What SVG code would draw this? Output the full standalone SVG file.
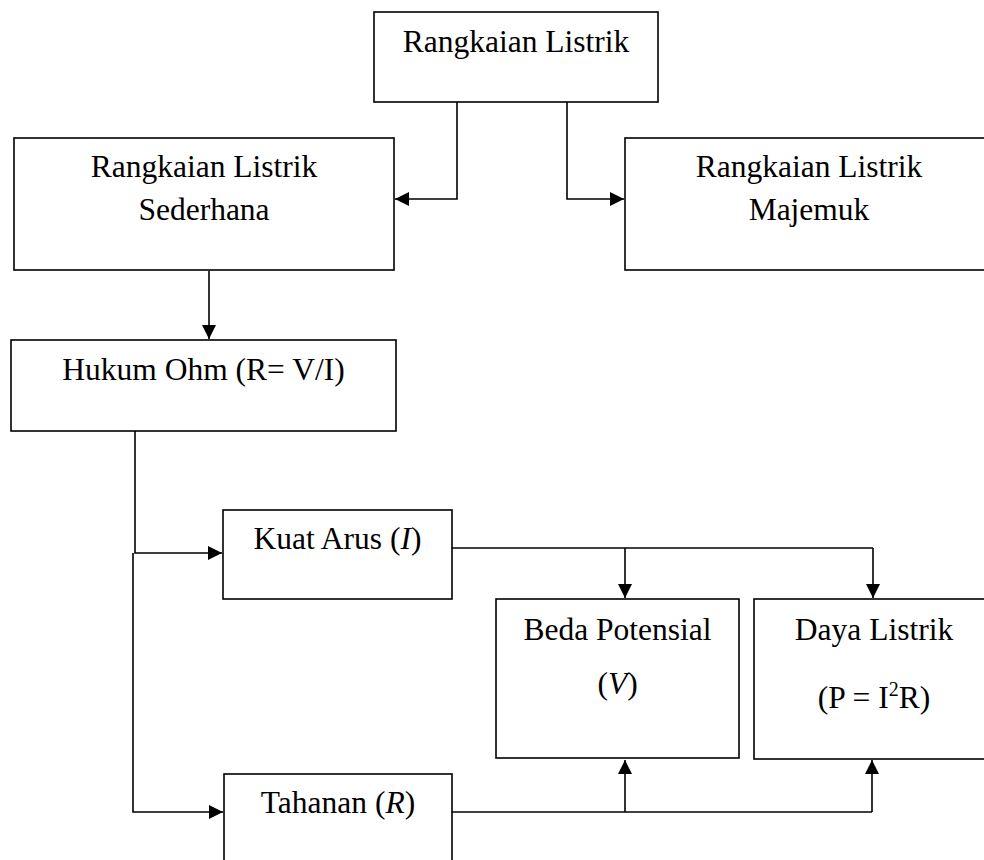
<svg xmlns="http://www.w3.org/2000/svg" width="984" height="860" viewBox="0 0 984 860">
<style>
.box{fill:#fff;stroke:#000;stroke-width:1.6}
.t{font-family:"Liberation Serif","Times New Roman",serif;font-size:31.5px;fill:#000;text-anchor:middle}
.c{fill:none;stroke:#000;stroke-width:1.6}
</style>
<defs>
<marker id="ah" markerUnits="userSpaceOnUse" markerWidth="15" markerHeight="15" refX="14" refY="7" orient="auto">
<path d="M0,0 L14,7 L0,14 z" fill="#000"/>
</marker>
</defs>
<rect width="984" height="860" fill="#fff"/>
<g id="connectors">
<path class="c" d="M457,102 V199 H395" marker-end="url(#ah)"/>
<path class="c" d="M567,102 V199 H624" marker-end="url(#ah)"/>
<path class="c" d="M209,271 V339" marker-end="url(#ah)"/>
<path class="c" d="M135,431 V553 H222" marker-end="url(#ah)"/>
<path class="c" d="M133,553 V812 H223" marker-end="url(#ah)"/>
<path class="c" d="M452,548 H873"/>
<path class="c" d="M625,548 V598" marker-end="url(#ah)"/>
<path class="c" d="M873,548 V598" marker-end="url(#ah)"/>
<path class="c" d="M452,812 H872"/>
<path class="c" d="M625,812 V760" marker-end="url(#ah)"/>
<path class="c" d="M872,812 V760" marker-end="url(#ah)"/>
</g>
<g id="rangkaian-listrik">
<rect class="box" x="374" y="12" width="284" height="90"/>
<text class="t" x="516" y="52">Rangkaian Listrik</text>
</g>
<g id="sederhana">
<rect class="box" x="14" y="138" width="380" height="132"/>
<text class="t" x="204" y="177">Rangkaian Listrik</text>
<text class="t" x="204" y="220">Sederhana</text>
</g>
<g id="majemuk">
<rect class="box" x="625" y="138" width="368" height="132"/>
<text class="t" x="809" y="177">Rangkaian Listrik</text>
<text class="t" x="809" y="220">Majemuk</text>
</g>
<g id="hukum-ohm">
<rect class="box" x="11" y="340" width="385" height="91"/>
<text class="t" x="203.5" y="380">Hukum Ohm (R= V/I)</text>
</g>
<g id="kuat-arus">
<rect class="box" x="223" y="510" width="229" height="89"/>
<text class="t" x="337.5" y="549">Kuat Arus (<tspan font-style="italic">I</tspan>)</text>
</g>
<g id="beda-potensial">
<rect class="box" x="496" y="599" width="243" height="159"/>
<text class="t" x="617.5" y="640">Beda Potensial</text>
<text class="t" x="617.5" y="694">(<tspan font-style="italic">V</tspan>)</text>
</g>
<g id="daya-listrik">
<rect class="box" x="754" y="599" width="240" height="160"/>
<text class="t" x="874" y="640">Daya Listrik</text>
<text class="t" x="874" y="708">(P = I<tspan font-size="20" dy="-12">2</tspan><tspan dy="12">R)</tspan></text>
</g>
<g id="tahanan">
<rect class="box" x="224" y="774" width="228" height="100"/>
<text class="t" x="338" y="813">Tahanan (<tspan font-style="italic">R</tspan>)</text>
</g>
</svg>
